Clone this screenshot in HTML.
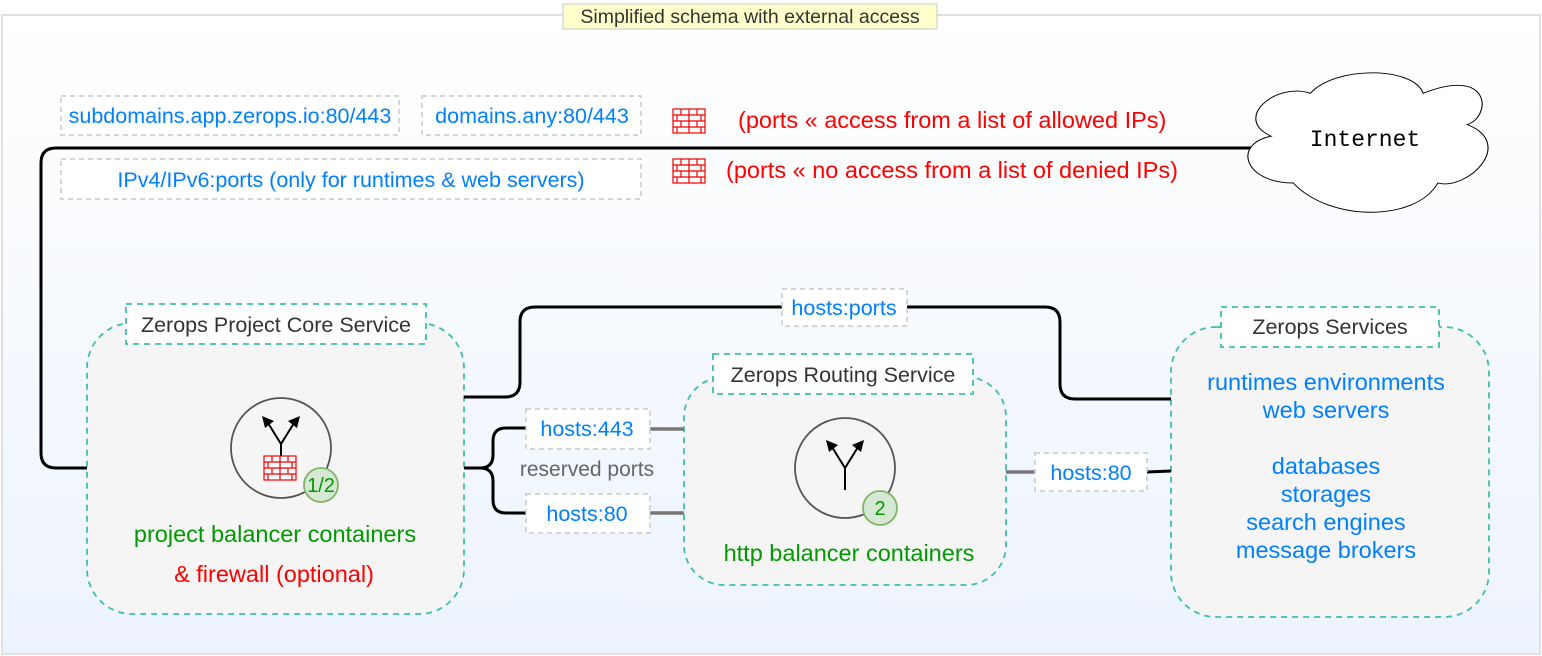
<!DOCTYPE html>
<html><head><meta charset="utf-8"><style>
html,body{margin:0;padding:0;width:1542px;height:656px;overflow:hidden;background:#fff}
svg{display:block}
text{font-family:"Liberation Sans",Arial,sans-serif}
</style></head><body>
<svg width="1542" height="656" viewBox="0 0 1542 656" xmlns="http://www.w3.org/2000/svg">
<defs>
<linearGradient id="bg" x1="0" y1="0" x2="0" y2="1">
<stop offset="0" stop-color="#ffffff"/><stop offset="1" stop-color="#edf3fd"/>
</linearGradient>
<g id="fw">
<rect x="0" y="0" width="32" height="24" fill="#fff" stroke="#e00" stroke-width="1.2"/>
<path d="M0,6H32M0,12H32M0,18H32M8,0V6M24,0V6M16,6V12M4,6V12M28,6V12M8,12V18M24,12V18M16,18V24M4,18V24M28,18V24M16,0V6M16,12V18" stroke="#e00" stroke-width="1.2" fill="none"/>
</g>
</defs>
<rect x="2" y="15" width="1538" height="639" fill="url(#bg)" stroke="#e0e0e0" stroke-width="2"/>
<rect x="563" y="4" width="374" height="25" fill="#ffffcc" stroke="#c8c8c8"/>
<text x="750" y="23" font-size="19.5" text-anchor="middle" fill="#333">Simplified schema with external access</text>

<g fill="#fff" stroke="#c8c8c8" stroke-width="1.5" stroke-dasharray="5,4">
<rect x="61" y="96" width="338" height="39"/>
<rect x="422" y="96" width="219" height="39"/>
<rect x="61" y="159" width="580" height="40"/>
</g>
<g font-size="21.5" fill="#007fff" text-anchor="middle">
<text x="230" y="123">subdomains.app.zerops.io:80/443</text>
<text x="532" y="123">domains.any:80/443</text>
<text x="351" y="187">IPv4/IPv6:ports (only for runtimes &amp; web servers)</text>
</g>
<use href="#fw" transform="translate(673,109)"/>
<use href="#fw" transform="translate(673,159)"/>
<text x="738" y="128" font-size="23.5" fill="#f00">(ports « access from a list of allowed IPs)</text>
<text x="726" y="178" font-size="23.5" fill="#f00">(ports « no access from a list of denied IPs)</text>

<path d="M88,468 H56 Q41,468 41,453 V163 Q41,148 56,148 H1268" fill="none" stroke="#000" stroke-width="3"/>

<path transform="translate(1232,66) scale(2.45,1.95)" d="M25,60 C5,60 0,40 16,36 C0,27 18,8 32,14 C42,0 74,0 78,14 C106,0 106,26 96,30 C116,40 96,64 84,60 C75,80 40,80 25,60 Z" fill="#fff" stroke="#000" stroke-width="0.45"/>
<text x="1365" y="146" font-size="23" text-anchor="middle" fill="#000" style="font-family:'Liberation Mono',monospace">Internet</text>

<g fill="#f5f5f5" stroke="#3fbfaa" stroke-width="1.8" stroke-dasharray="6,5">
<rect x="87" y="323" width="377" height="291" rx="45"/>
<rect x="684" y="377" width="322" height="208" rx="40"/>
<rect x="1171" y="327" width="318" height="290" rx="45"/>
</g>
<g fill="#fff" stroke="#3fbfaa" stroke-width="1.8" stroke-dasharray="6,5">
<rect x="126" y="304" width="300" height="40"/>
<rect x="713" y="354" width="260" height="40"/>
<rect x="1221" y="307" width="218" height="40"/>
</g>
<g font-size="21.5" fill="#333" text-anchor="middle">
<text x="276" y="332">Zerops Project Core Service</text>
<text x="843" y="382">Zerops Routing Service</text>
<text x="1330" y="334">Zerops Services</text>
</g>

<path d="M464,397 H505 Q520,397 520,382 V322 Q520,307 535,307 H1045 Q1060,307 1060,322 V384 Q1060,399 1075,399 H1171" fill="none" stroke="#000" stroke-width="3"/>
<rect x="782" y="289" width="125" height="37" fill="#fff" stroke="#c8c8c8" stroke-width="1.5" stroke-dasharray="5,4"/>
<text x="844" y="315" font-size="21.5" fill="#007fff" text-anchor="middle">hosts:ports</text>

<path d="M464,468 H480 Q493,468 493,455 V441 Q493,428 506,428 H526 M480,468 Q493,468 493,481 V500 Q493,513 506,513 H526" fill="none" stroke="#000" stroke-width="3"/>
<path d="M650,429 H684 M650,513 H684 M1006,472 H1035" stroke="#777" stroke-width="3.5"/>
<path d="M1147,472 L1171,471" stroke="#000" stroke-width="3"/>
<g fill="#fff" stroke="#c8c8c8" stroke-width="1.5" stroke-dasharray="5,4">
<rect x="526" y="409" width="124" height="40"/>
<rect x="526" y="494" width="124" height="39"/>
<rect x="1035" y="453" width="112" height="38"/>
</g>
<g font-size="21.5" fill="#007fff" text-anchor="middle">
<text x="587" y="436">hosts:443</text>
<text x="587" y="521">hosts:80</text>
<text x="1091" y="480">hosts:80</text>
</g>
<text x="587" y="476" font-size="21" fill="#666" text-anchor="middle">reserved ports</text>

<g fill="none" stroke="#555" stroke-width="1.8">
<circle cx="281" cy="448" r="50"/>
<circle cx="845" cy="468" r="50"/>
</g>
<g stroke="#000" stroke-width="2" fill="none">
<path d="M281,456 V444 L268,423 M281,444 L294,423"/>
<path d="M845,490 V468 L832,447 M845,468 L858,447"/>
</g>
<g fill="#000">
<polygon points="262,416 274,421 265,428"/>
<polygon points="300,416 297,428 288,421"/>
<polygon points="826,440 838,445 829,452"/>
<polygon points="864,440 861,452 852,445"/>
</g>
<use href="#fw" transform="translate(264,456)"/>
<g fill="#d5e8d4" stroke="#82b366" stroke-width="1.8">
<circle cx="321" cy="485" r="17"/>
<circle cx="880" cy="508" r="17"/>
</g>
<text x="321" y="492" font-size="20" fill="#009900" text-anchor="middle">1/2</text>
<text x="880" y="515" font-size="20" fill="#009900" text-anchor="middle">2</text>

<g font-size="23.5" text-anchor="middle">
<text x="275" y="542" fill="#009900">project balancer containers</text>
<text x="274" y="582" fill="#f00">&amp; firewall (optional)</text>
<text x="849" y="561" fill="#009900">http balancer containers</text>
</g>
<g font-size="23.5" fill="#007fff" text-anchor="middle">
<text x="1326" y="390">runtimes environments</text>
<text x="1326" y="418">web servers</text>
<text x="1326" y="474">databases</text>
<text x="1326" y="502">storages</text>
<text x="1326" y="530">search engines</text>
<text x="1326" y="558">message brokers</text>
</g>
</svg>
</body></html>
